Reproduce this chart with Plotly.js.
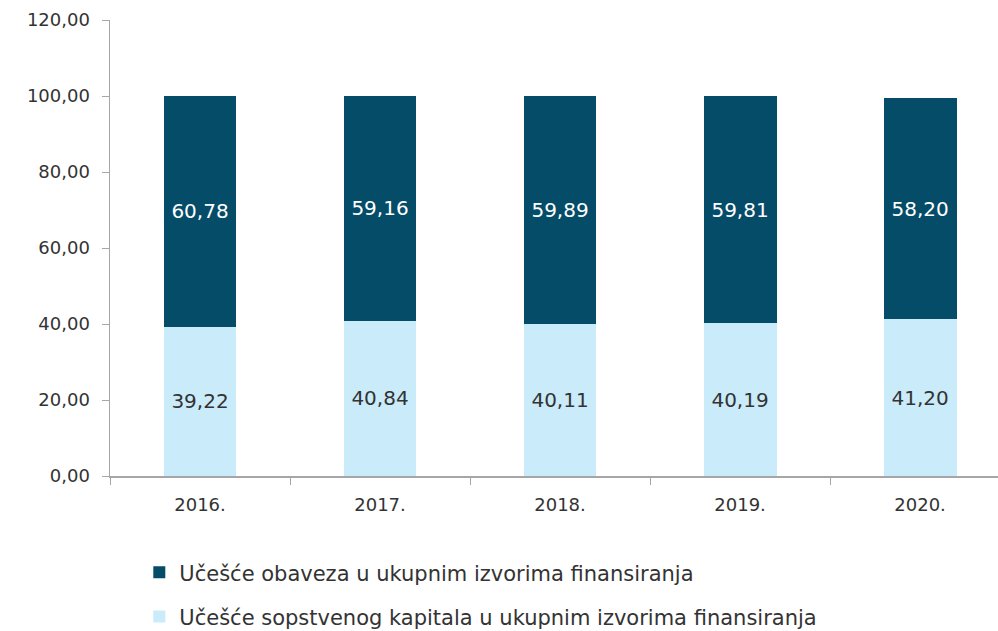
<!DOCTYPE html>
<html>
<head>
<meta charset="utf-8">
<script src="https://cdn.plot.ly/plotly-3.0.1.min.js"></script>
<style>html,body{margin:0;padding:0;background:#fff;}#chart{width:998px;height:631px;}</style>
</head>
<body>
<div id="chart"></div>
<script>
const years = ['2016.', '2017.', '2018.', '2019.', '2020.'];
const kapital = [39.22, 40.84, 40.11, 40.19, 41.20];
const obaveze = [60.78, 59.16, 59.89, 59.81, 58.20];
const nameKapital = 'Učešće sopstvenog kapitala u ukupnim izvorima finansiranja';
const nameObaveze = 'Učešće obaveza u ukupnim izvorima finansiranja';
const yTicks = [0, 20, 40, 60, 80, 100, 120];

const fmt = v => v.toFixed(2).replace('.', ',');
const FONT = '"DejaVu Sans", "Noto Sans", sans-serif';

const traces = [
  {
    type: 'bar', x: years, y: kapital, name: nameKapital, legendgroup: 'a', legendrank: 2,
    marker: {color: '#C9EBFA'}, width: 0.405,
    text: kapital.map(fmt), textposition: 'inside', insidetextanchor: 'middle',
    textfont: {color: '#333333', size: 20, family: FONT}, hoverinfo: 'skip'
  },
  {
    type: 'bar', x: years, y: obaveze, name: nameObaveze, legendgroup: 'b', legendrank: 1,
    marker: {color: '#054C69'}, width: 0.405,
    text: obaveze.map(fmt), textposition: 'inside', insidetextanchor: 'middle',
    textfont: {color: '#ffffff', size: 20, family: FONT}, hoverinfo: 'skip'
  }
];

const layout = {
  width: 998, height: 631,
  barmode: 'stack',
  separators: ',.',
  paper_bgcolor: '#ffffff', plot_bgcolor: '#ffffff',
  margin: {l: 110, r: 0, t: 20, b: 155, autoexpand: false},
  font: {family: FONT, color: '#333333'},
  xaxis: {
    type: 'category', range: [-0.5, 4.433],
    tickson: 'boundaries', ticks: 'outside', ticklen: 7, tickcolor: '#a6a6a6',
    ticklabelstandoff: 12,
    showline: true, linecolor: '#a6a6a6', linewidth: 1.5,
    showgrid: false, tickfont: {size: 18, color: '#333333'}, fixedrange: true
  },
  yaxis: {
    range: [0, 120], tickvals: yTicks, ticktext: yTicks.map(fmt),
    ticks: 'outside', ticklen: 7, tickcolor: '#a6a6a6',
    ticklabelstandoff: 8,
    showline: true, linecolor: '#a6a6a6', linewidth: 1.5,
    showgrid: false, zeroline: false, tickfont: {size: 18, color: '#333333'}, fixedrange: true
  },
  showlegend: true,
  legend: {
    orientation: 'v', traceorder: 'grouped', x: 0.033, xanchor: 'left', y: -0.167, yanchor: 'top',
    font: {size: 21, color: '#333333', family: FONT}, tracegroupgap: 14,
    itemwidth: 30
  }
};

Plotly.newPlot('chart', traces, layout, {displayModeBar: false, staticPlot: true});
</script>
</body>
</html>
